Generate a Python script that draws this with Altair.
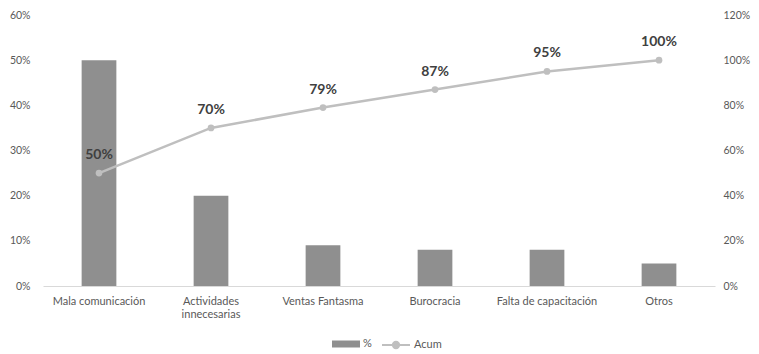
import altair as alt
import pandas as pd

categories = ["Mala comunicación", "Actividades innecesarias", "Ventas Fantasma",
              "Burocracia", "Falta de capacitación", "Otros"]
pct = [0.50, 0.20, 0.09, 0.08, 0.08, 0.05]
acum = [0.50, 0.70, 0.79, 0.87, 0.95, 1.00]
acum_labels = ["50%", "70%", "79%", "87%", "95%", "100%"]
left_ticks = [0, 0.1, 0.2, 0.3, 0.4, 0.5, 0.6]
right_ticks = [0, 0.2, 0.4, 0.6, 0.8, 1.0, 1.2]

df = pd.DataFrame({"cat": categories, "pct": pct, "acum": acum, "lbl": acum_labels,
                   "s1": "%", "s2": "Acum"})

FONT = "Lato"
TXT = "#595959"
BAR = "#8F8F8F"
LINE = "#BFBFBF"

x = alt.X("cat:N", sort=categories, title=None,
          scale=alt.Scale(paddingInner=0.69, paddingOuter=0.345),
          axis=alt.Axis(labelAngle=0, ticks=False, domainColor="#D9D9D9",
                        labelColor=TXT, labelFontSize=11, labelPadding=9, labelFont=FONT,
                        labelExpr="datum.value == 'Actividades innecesarias' ? ['Actividades', 'innecesarias'] : datum.value"))

# legends positioned below the plot, centred (coordinates relative to plot origin)
LEG_Y = 322
bars = alt.Chart(df).mark_bar(color=BAR).encode(
    x=x,
    y=alt.Y("pct:Q", title=None, scale=alt.Scale(domain=[0, 0.6], nice=False),
            axis=alt.Axis(format=".0%", values=left_ticks, grid=False, domain=False, ticks=False,
                          labelColor=TXT, labelFontSize=10.5, labelPadding=13, labelFont=FONT)),
    color=alt.Color("s1:N", scale=alt.Scale(domain=["%"], range=[BAR]),
                    legend=alt.Legend(title=None, orient="none", legendX=296, legendY=LEG_Y,
                                      symbolType="M-2,-0.5H2V0.5H-2Z", symbolSize=196,
                                      symbolStrokeWidth=0, labelOffset=10, padding=0,
                                      labelColor=TXT, labelFontSize=11, labelFont=FONT)),
)

yr = alt.Y("acum:Q", title=None, scale=alt.Scale(domain=[0, 1.2], nice=False),
           axis=alt.Axis(format=".0%", values=right_ticks, orient="right", grid=False,
                         domain=False, ticks=False, labelColor=TXT, labelFontSize=10.5,
                         labelPadding=8, labelFont=FONT))

line = alt.Chart(df).mark_line(strokeWidth=2.5).encode(
    x=x, y=yr,
    color=alt.Color("s2:N", scale=alt.Scale(domain=["Acum"], range=[LINE]),
                    legend=alt.Legend(title=None, orient="none", legendX=345, legendY=LEG_Y,
                                      symbolType="M-2,0L-0.45,0M0.45,0L2,0M-0.45,0A0.45,0.45 0 1,0 0.45,0A0.45,0.45 0 1,0 -0.45,0",
                                      symbolStrokeWidth=2, symbolSize=196, symbolFillColor=LINE,
                                      labelOffset=10, padding=0,
                                      labelColor=TXT, labelFontSize=11, labelFont=FONT)),
)
pts = alt.Chart(df).mark_point(filled=True, size=45, color=LINE, opacity=1).encode(x=x, y=yr)
txt = alt.Chart(df).mark_text(dy=-18, fontSize=14, fontWeight="bold", color="#404040", font=FONT).encode(
    x=x, y=yr, text="lbl:N")

right = alt.layer(line, pts, txt)

chart = alt.layer(bars, right).resolve_scale(y="independent", color="independent").properties(
    width=672, height=271,
    autosize=alt.AutoSizeParams(type="none"),
    padding={"left": 35, "top": 7, "right": 36, "bottom": 64},
).configure_view(stroke=None)

chart.save("out.html", embed_options={"renderer": "svg", "actions": False})
